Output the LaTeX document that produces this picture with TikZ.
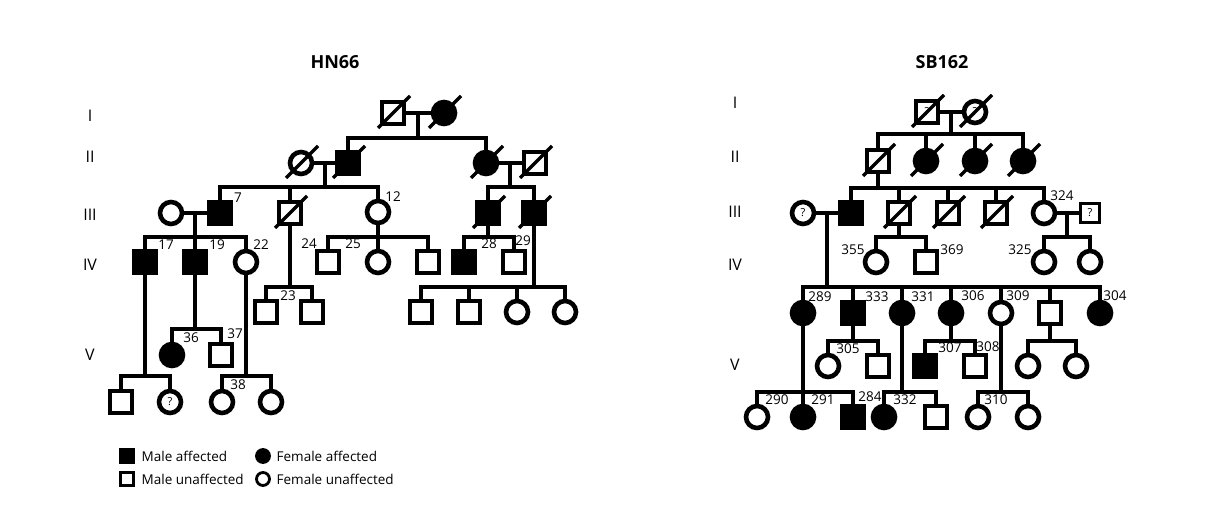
\documentclass[tikz,border=0pt]{standalone}
\usepackage{fontspec}
\setmainfont{Open Sans}
\begin{document}
\begin{tikzpicture}[
  x=1pt, y=-1pt,
  line width=3.4pt,
  male/.style={draw, rectangle, minimum size=22pt, inner sep=0pt, line width=4.6pt},
  female/.style={draw, circle, minimum size=22pt, inner sep=0pt, line width=4.6pt},
  aff/.style={fill=black},
  qm/.style={font=\fontsize{11}{11}\selectfont},
  num/.style={font=\fontsize{13.5}{13.5}\selectfont, inner sep=0pt},
  gen/.style={font=\fontsize{16}{16}\selectfont, inner sep=0pt},
  title/.style={font=\bfseries\fontsize{18}{18}\selectfont},
  key/.style={minimum size=13pt, line width=2.8pt},
  keytext/.style={font=\fontsize{13.5}{13.5}\selectfont, anchor=west, inner sep=0pt},
  con/.style={line width=3.4pt}
]
\useasboundingbox[fill=white] (0,0) rectangle (1205,529);

%%% HN66
\node[title] (hn) at (335,62) {HN66};
\node[gen] (hI) at (90,116) {I};
\node[gen] (hII) at (90,157) {II};
\node[gen] (hIII) at (90,215) {III};
\node[gen] (hIV) at (90,265) {IV};
\node[gen] (hV) at (90,355) {V};

\node[male] (a1) at (393,113) {};
\node[female, aff] (a2) at (444,113) {};
\node[female] (b1) at (301,163) {};
\node[male, aff] (b2) at (348,163) {};
\node[female, aff] (b3) at (486,163) {};
\node[male] (b4) at (535,163) {};
\node[female] (c1) at (171,213) {};
\node[male, aff] (c2) at (220,213) {};
\node[male] (c3) at (290,213) {};
\node[female] (c4) at (378,212) {};
\node[male, aff] (c5) at (488,213) {};
\node[male, aff] (c6) at (534,213) {};
\node[male, aff] (d1) at (145,262) {};
\node[male, aff] (d2) at (195,262) {};
\node[female] (d3) at (246,262) {};
\node[male] (d4) at (328,262) {};
\node[female] (d5) at (378,262) {};
\node[male] (d6) at (428,262) {};
\node[male, aff] (d7) at (464,262) {};
\node[male] (d8) at (514,262) {};
\node[male] (e1) at (266,312) {};
\node[male] (e2) at (312,312) {};
\node[male] (e3) at (421,312) {};
\node[male] (e4) at (469,312) {};
\node[female] (e5) at (517,312) {};
\node[female] (e6) at (565,312) {};
\node[female, aff] (f1) at (172,355) {};
\node[male] (f2) at (221,355) {};
\node[male] (g1) at (121,402) {};
\node[female, qm] (g2) at (170,402) {?};
\node[female] (g3) at (222,402) {};
\node[female] (g4) at (271,402) {};

% sibship lines
\coordinate (ua) at (418,138);
\coordinate (ub1) at (325,187);
\coordinate (ub3) at (510,187);
\coordinate (uc1) at (195,237);
\coordinate (uc3) at (290,287);
\coordinate (uc4) at (378,237);
\coordinate (uc5) at (488,237);
\coordinate (uc6) at (534,287);
\coordinate (ud1) at (145,376);
\coordinate (ud2) at (195,329);
\coordinate (ud3) at (246,376);

\draw[con] (a1) -- (a2);
\draw[con] (ua |- a1) -- (ua);
\draw[con] (b2) |- (ua) -| (b3);
\draw[con] (b1) -- (b2);
\draw[con] (ub1 |- b1) -- (ub1);
\draw[con] (c2) |- (ub1) -| (c4);
\draw[con] (c3) -- (c3 |- ub1);
\draw[con] (b3) -- (b4);
\draw[con] (ub3 |- b3) -- (ub3);
\draw[con] (c5) |- (ub3) -| (c6);
\draw[con] (c1) -- (c2);
\draw[con] (uc1 |- c1) -- (uc1);
\draw[con] (d1) |- (uc1) -| (d3);
\draw[con] (d2) -- (d2 |- uc1);
\draw[con] (c3) -- (uc3);
\draw[con] (e1) |- (uc3) -| (e2);
\draw[con] (c4) -- (uc4);
\draw[con] (d4) |- (uc4) -| (d6);
\draw[con] (d5) -- (uc4);
\draw[con] (c5) -- (uc5);
\draw[con] (d7) |- (uc5) -| (d8);
\draw[con] (c6) -- (uc6);
\draw[con] (e3) |- (uc6) -| (e6);
\foreach \n in {e4,e5} \draw[con] (\n) -- (\n |- uc6);
\draw[con] (d1) -- (ud1);
\draw[con] (g1) |- (ud1) -| (g2);
\draw[con] (d2) -- (ud2);
\draw[con] (f1) |- (ud2) -| (f2);
\draw[con] (d3) -- (ud3);
\draw[con] (g3) |- (ud3) -| (g4);

\foreach \n in {a1,a2,b1,b2,b3,b4,c3,c5,c6}
  \draw[con] (\n.center) ++(-15,15) -- ++(32,-32);

\node[num] (t7) at (238,198) {7};
\node[num] (t12) at (393,197) {12};
\node[num] (t17) at (166,245) {17};
\node[num] (t19) at (217,245) {19};
\node[num] (t22) at (261,245) {22};
\node[num] (t24) at (309,244) {24};
\node[num] (t25) at (353,244) {25};
\node[num] (t28) at (489,244) {28};
\node[num] (t29) at (523,241) {29};
\node[num] (t23) at (288,296) {23};
\node[num] (t36) at (191,338) {36};
\node[num] (t37) at (235,334) {37};
\node[num] (t38) at (238,385) {38};

% legend
\node[male, aff, key] (kma) at (127,456) {};
\node[keytext] (kmat) at (140,456) {Male affected};
\node[female, aff, key] (kfa) at (263,456) {};
\node[keytext] (kfat) at (275,456) {Female affected};
\node[male, key] (kmu) at (127,479) {};
\node[keytext] (kmut) at (140,479) {Male unaffected};
\node[female, key] (kfu) at (263,479) {};
\node[keytext] (kfut) at (275,479) {Female unaffected};

%%% SB162
\node[title] (sb) at (942,62) {SB162};
\node[gen] (sI) at (735,103) {I};
\node[gen] (sII) at (735,157) {II};
\node[gen] (sIII) at (735,212) {III};
\node[gen] (sIV) at (735,265) {IV};
\node[gen] (sV) at (735,365) {V};

\node[male, qm] (h1) at (927,112) {?};
\node[female, qm] (h2) at (975,112) {?};
\node[male] (i1) at (878,161) {};
\node[female, aff] (i2) at (926,161) {};
\node[female, aff] (i3) at (975,161) {};
\node[female, aff] (i4) at (1023,161) {};
\node[female, qm] (j1) at (803,213) {?};
\node[male, aff] (j2) at (851,213) {};
\node[male] (j3) at (899,213) {};
\node[male] (j4) at (948,213) {};
\node[male] (j5) at (996,213) {};
\node[female] (j6) at (1044,213) {};
\node[male, qm, minimum size=19pt, line width=3.6pt] (j7) at (1090,213) {?};
\node[female] (l1) at (876,262) {};
\node[male] (l2) at (926,262) {};
\node[female] (l3) at (1044,262) {};
\node[female] (l4) at (1090,262) {};
\node[female, aff] (k1) at (803,313) {};
\node[male, aff] (k2) at (853,313) {};
\node[female, aff] (k3) at (902,313) {};
\node[female, aff] (k4) at (951,313) {};
\node[female] (k5) at (1001,313) {};
\node[male] (k6) at (1050,313) {};
\node[female, aff] (k7) at (1100,313) {};
\node[female] (m1) at (828,366) {};
\node[male] (m2) at (878,366) {};
\node[male, aff] (m3) at (925,366) {};
\node[male] (m4) at (975,366) {};
\node[female] (m5) at (1028,366) {};
\node[female] (m6) at (1076,366) {};
\node[female] (o1) at (757,417) {};
\node[female, aff] (o2) at (803,417) {};
\node[male, aff] (o3) at (853,417) {};
\node[female, aff] (o4) at (884,417) {};
\node[male] (o5) at (936,417) {};
\node[female] (o6) at (978,417) {};
\node[female] (o7) at (1028,417) {};

% sibship lines
\coordinate (wh) at (951,134);
\coordinate (wi) at (878,188);
\coordinate (wj1) at (827,287);
\coordinate (wj3) at (899,237);
\coordinate (wj6) at (1067,237);
\coordinate (wk1) at (803,392);
\coordinate (wk2) at (853,341);
\coordinate (wk3) at (902,392);
\coordinate (wk4) at (951,341);
\coordinate (wk5) at (1001,392);
\coordinate (wk6) at (1050,341);

\draw[con] (h1) -- (h2);
\draw[con] (wh |- h1) -- (wh);
\draw[con] (i1) |- (wh) -| (i4);
\foreach \n in {i2,i3} \draw[con] (\n) -- (\n |- wh);
\draw[con] (i1) -- (wi);
\draw[con] (j2) |- (wi) -| (j6);
\foreach \n in {j3,j4,j5} \draw[con] (\n) -- (\n |- wi);
\draw[con] (j1) -- (j2);
\draw[con] (wj1 |- j1) -- (wj1);
\draw[con] (k1) |- (wj1) -| (k7);
\foreach \n in {k2,k3,k4,k5,k6} \draw[con] (\n) -- (\n |- wj1);
\draw[con] (j3) -- (wj3);
\draw[con] (l1) |- (wj3) -| (l2);
\draw[con] (j6) -- (j7);
\draw[con] (wj6 |- j6) -- (wj6);
\draw[con] (l3) |- (wj6) -| (l4);
\draw[con] (k2) -- (wk2);
\draw[con] (m1) |- (wk2) -| (m2);
\draw[con] (k4) -- (wk4);
\draw[con] (m3) |- (wk4) -| (m4);
\draw[con] (k6) -- (wk6);
\draw[con] (m5) |- (wk6) -| (m6);
\draw[con] (k1) -- (wk1);
\draw[con] (o1) |- (wk1) -| (o3);
\draw[con] (o2) -- (wk1);
\draw[con] (k3) -- (wk3);
\draw[con] (o4) |- (wk3) -| (o5);
\draw[con] (k5) -- (wk5);
\draw[con] (o6) |- (wk5) -| (o7);

\foreach \n in {h1,h2,i1,i2,i3,i4,j3,j4,j5}
  \draw[con] (\n.center) ++(-15,15) -- ++(32,-32);

\node[num] (t324) at (1062,196) {324};
\node[num] (t355) at (853,250) {355};
\node[num] (t369) at (952,250) {369};
\node[num] (t325) at (1020,250) {325};
\node[num] (t289) at (820,297) {289};
\node[num] (t333) at (877,297) {333};
\node[num] (t331) at (923,297) {331};
\node[num] (t306) at (973,296) {306};
\node[num] (t309) at (1018,296) {309};
\node[num] (t304) at (1115,296) {304};
\node[num] (t305) at (848,349) {305};
\node[num] (t307) at (950,348) {307};
\node[num] (t308) at (988,347) {308};
\node[num] (t290) at (777,400) {290};
\node[num] (t291) at (823,400) {291};
\node[num] (t284) at (870,397) {284};
\node[num] (t332) at (905,400) {332};
\node[num] (t310) at (996,400) {310};
\end{tikzpicture}
\end{document}
